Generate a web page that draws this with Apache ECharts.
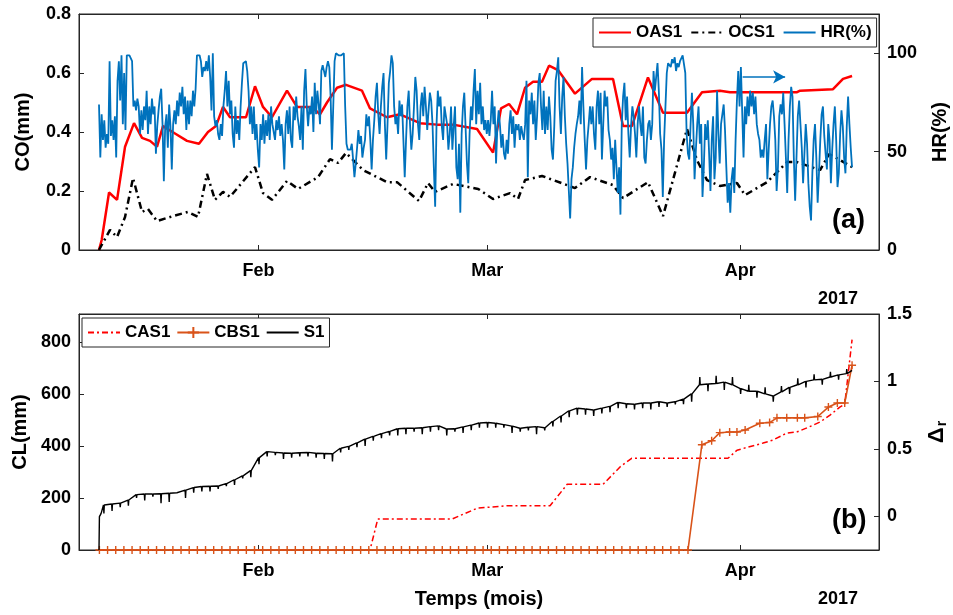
<!DOCTYPE html>
<html><head><meta charset="utf-8">
<script src="https://cdn.jsdelivr.net/npm/echarts@6/dist/echarts.min.js"></script>
<style>html,body{margin:0;padding:0;background:#fff}#c{width:953px;height:615px}</style>
</head><body><div id="c"></div>
<script>
// time unit: days since 2017-01-01 00:00
const MONTH_TICKS = [31, 59, 90];
const MONTH_LABELS = ['Feb', 'Mar', 'Apr'];
const CO_TICKS = [0, 0.2, 0.4, 0.6, 0.8];
const HR_TICKS = [0, 50, 100];
const CL_TICKS = [0, 200, 400, 600, 800];
const DR_TICKS = [0, 0.5, 1, 1.5];

const OAS1 = [[11.45,0],[11.78,0.034],[12.68,0.195],[13.66,0.17],[14.64,0.35],[15.74,0.43],[16.72,0.38],[17.7,0.37],[18.56,0.35],[19.29,0.42],[20.76,0.395],[22.23,0.37],[23.7,0.36],[24.8,0.40],[25.78,0.42],[26.64,0.485],[27.5,0.45],[29.46,0.45],[30.56,0.555],[31.54,0.485],[32.64,0.45],[34.48,0.54],[35.7,0.485],[37.54,0.485],[38.52,0.46],[39.38,0.50],[40.61,0.55],[41.71,0.56],[43.67,0.54],[44.65,0.48],[46.73,0.45],[48.32,0.46],[50.77,0.43],[52.86,0.425],[54.82,0.425],[57.76,0.41],[59.72,0.33],[60.7,0.48],[61.68,0.495],[62.66,0.46],[63.64,0.55],[64.62,0.57],[65.72,0.57],[66.58,0.625],[67.68,0.61],[69.76,0.53],[71.84,0.58],[74.42,0.58],[75.64,0.42],[76.74,0.42],[78.7,0.585],[80.54,0.465],[83.48,0.465],[85.32,0.535],[87.52,0.54],[88.75,0.535],[96.96,0.535],[97.33,0.54],[101.37,0.545],[102.59,0.58],[103.7,0.59]];

const OCS1 = [[11.45,0],[11.78,0.017],[12.8,0.068],[13.66,0.044],[14.64,0.112],[15.62,0.244],[16.72,0.129],[17.45,0.139],[18.56,0.098],[20.52,0.115],[22.35,0.129],[23.58,0.112],[24.68,0.258],[25.66,0.17],[26.64,0.197],[27.5,0.18],[30.56,0.281],[31.54,0.193],[32.64,0.17],[34.48,0.234],[35.83,0.207],[38.28,0.247],[39.75,0.308],[40.73,0.295],[41.71,0.329],[43.79,0.271],[46.73,0.23],[47.96,0.23],[50.65,0.166],[51.75,0.227],[52.61,0.197],[54.82,0.224],[57.9,0.207],[59.72,0.173],[61.8,0.193],[62.78,0.173],[63.64,0.237],[65.72,0.251],[69.76,0.21],[71.6,0.247],[74.42,0.22],[75.64,0.176],[78.7,0.23],[80.54,0.115],[83.48,0.41],[84.7,0.305],[85.93,0.237],[87.52,0.217],[89.6,0.227],[90.59,0.186],[93.28,0.23],[95.73,0.298],[96.96,0.298],[99.78,0.271],[100.88,0.325],[102.23,0.305],[103.7,0.281]];

// HR(%) regular samples from HR_START to HR_END (days)
const HR_START = 11.45;
const HR_END = 103.7;
const HR = [
74,47,69,56,66,52,59,54,96,58, 66,56,68,47,86,96,76,99,64,90, 61,99,99,99,99,96,73,76,71,77, 73,59,71,61,73,66,81,59,73,64, 77,69,73,49,63,71,78,82,64,35, 63,69,52,74,63,41,64,71,64,76, 68,80,73,83,69,78,61,76,64,76, 68,81,73,82,99,100,99,96,88,93, 91,96,91,99,88,71,100,68,63,66,
59,56,64,58,73,81,91,73,86,69, 76,59,52,73,59,66,56,73,85,95, 96,96,91,81,64,73,59,73,56,64, 51,42,64,56,69,54,66,58,69,56, 73,64,63,56,66,61,68,58,64,56, 41,64,71,59,73,56,52,73,66,78, 68,63,56,73,51,81,92,73,63,73, 69,78,60,85,69,81,74,64,91,94, 95,88,93,96,93,78,51,73,96,100, 99,99,100,99,
99,100,73,54,51,52,51,54,46,37, 44,52,61,54,58,47,52,56,69,63, 68,56,41,56,66,78,85,69,59,73, 83,90,64,46,64,85,91,99,95,73, 64,68,59,76,68,74,56,37,56,73, 81,64,51,59,73,88,81,64,56,73, 80,68,83,73,61,71,80,76,64,42, 22,63,81,73,78,63,56,73,74,64, 51,59,73,51,63,73,42,36,54,19, 59,73,80,
80,44,34,59,73,66,81,92,64,81, 69,85,64,73,61,66,59,66,58,66, 81,64,73,44,63,71,63,52,59,49, 46,56,49,64,71,59,68,52,64,61, 64,56,63,59,56,64,86,37,76,69, 80,64,76,56,68,85,90,73,61,81, 59,73,61,78,68,51,46,63,86,91, 98,73,59,78,88,68,54,44,30,16, 36,42,52,59,64,68,76,64,93,73, 56,41,56,64,73,64,73,
59,51,73,81,64,80,46,64,81,73, 78,61,56,46,52,36,56,42,29,42, 18,64,78,85,66,78,59,47,63,73, 68,59,47,64,73,64,58,73,47,44, 56,64,66,56,64,91,81,88,95,81, 59,51,27,56,73,90,95,96,93,97, 95,98,91,95,93,96,95,99,99,90, 59,49,46,64,80,64,36,51,64,73, 54,64,27,42,64,56,66,49,30,56, 68,36,47,81,59,44,64,
64,74,61,42,24,34,19,36,42,29, 56,76,91,73,93,94,47,73,64,78, 68,81,73,80,69,78,64,59,56,47, 51,47,56,64,36,51,64,73,76,68, 56,30,42,68,74,69,80,64,47,29, 56,73,83,78,47,25,47,68,76,64, 52,34,49,64,54,34,22,15,39,56, 64,47,24,39,56,69,73,58,49,41, 64,56,34,51,64,73,56,32,39,59, 71,63,47,39,63,78,64,52,42
];

// S1: first points, then daily level (days 12..103) and the daily spike value
const S1_HEAD = [[11.45,0],[11.5,128],[11.7,140]];
const S1_FIRST_DAY = 12;
const S1_BASE = [
173,177,180,192,213,215,215,216,218,220,
230,240,244,245,246,255,270,285,305,355,
378,375,373,372,374,375,372,371,370,391,
398,412,426,437,447,456,466,468,468,470,
474,477,465,466,473,480,488,490,487,482,
476,468,472,474,470,495,515,535,545,542,
538,545,552,567,562,560,565,565,570,565,
570,580,600,635,638,640,645,635,620,610,
610,600,592,608,625,635,648,654,656,665,
673,678];
const S1_SPIKE = [
140,150,165,170,200,190,205,180,185,215,
200,220,225,225,235,245,250,275,280,330,
360,365,350,355,360,360,355,350,340,375,
385,395,400,420,430,440,440,445,455,445,
455,460,440,455,450,460,470,470,470,470,
450,455,460,445,460,475,490,510,520,520,
515,525,530,545,545,540,545,540,550,550,
560,560,570,665,610,670,615,665,600,635,
585,625,570,630,600,660,625,675,635,685,
655,695];
const S1_TAIL = [[103.7,690]];

const CAS1 = [[11.45,-0.25],[44.65,-0.25],[45.6,-0.02],[54.7,-0.02],[57.8,0.06],[61.4,0.078],[66.7,0.078],[68.8,0.237],[73.2,0.237],[75.3,0.367],[76.7,0.43],[88.5,0.43],[89.6,0.49],[90.8,0.51],[92.8,0.543],[94.0,0.565],[95.7,0.617],[97.0,0.627],[98.5,0.664],[99.8,0.70],[101.0,0.75],[102.2,0.81],[102.8,0.83],[103.7,1.31]];

const CBS1 = [[11.5,-0.25],[12.5,-0.25],[13.5,-0.25],[14.5,-0.25],[15.5,-0.25],[16.5,-0.25],[17.5,-0.25],[18.5,-0.25],[19.5,-0.25],[20.5,-0.25],
[21.5,-0.25],[22.5,-0.25],[23.5,-0.25],[24.5,-0.25],[25.5,-0.25],[26.5,-0.25],[27.5,-0.25],[28.5,-0.25],[29.5,-0.25],[30.5,-0.25],
[31.5,-0.25],[32.5,-0.25],[33.5,-0.25],[34.5,-0.25],[35.5,-0.25],[36.5,-0.25],[37.5,-0.25],[38.5,-0.25],[39.5,-0.25],[40.5,-0.25],
[41.5,-0.25],[42.5,-0.25],[43.5,-0.25],[44.5,-0.25],[45.5,-0.25],[46.5,-0.25],[47.5,-0.25],[48.5,-0.25],[49.5,-0.25],[50.5,-0.25],
[51.5,-0.25],[52.5,-0.25],[53.5,-0.25],[54.5,-0.25],[55.5,-0.25],[56.5,-0.25],[57.5,-0.25],[58.5,-0.25],[59.5,-0.25],[60.5,-0.25],
[61.5,-0.25],[62.5,-0.25],[63.5,-0.25],[64.5,-0.25],[65.5,-0.25],[66.5,-0.25],[67.5,-0.25],[68.5,-0.25],[69.5,-0.25],[70.5,-0.25],
[71.5,-0.25],[72.5,-0.25],[73.5,-0.25],[74.5,-0.25],[75.5,-0.25],[76.5,-0.25],[77.5,-0.25],[78.5,-0.25],[79.5,-0.25],[80.5,-0.25],
[81.5,-0.25],[82.5,-0.25],[83.6,-0.25],
[85.3,0.53],[86.5,0.56],[87.5,0.62],[88.7,0.625],[89.6,0.625],[90.6,0.64],[92.4,0.69],[93.6,0.695],[94.5,0.73],[95.7,0.73],[97.0,0.73],[97.9,0.73],[99.5,0.74],[100.8,0.81],[101.9,0.84],[102.8,0.84],[103.7,1.12]];

// ---------- build ----------
const hrData = HR.map((v, i) => [HR_START + i * (HR_END - HR_START) / (HR.length - 1), v]);
const s1Data = S1_HEAD.slice();
S1_BASE.forEach((b, i) => {
  const d = S1_FIRST_DAY + i;
  s1Data.push([d, b], [d + 0.05, S1_SPIKE[i]], [d + 0.1, b]);
});
S1_TAIL.forEach(p => s1Data.push(p));

const FONT = "'Liberation Sans', Arial, Helvetica, sans-serif";
const AX = '#262626';
const monthFmt = v => { const i = MONTH_TICKS.indexOf(v); return i >= 0 ? MONTH_LABELS[i] : ''; };

function xAx(gridIndex, position, labels, name) {
  return {
    type: 'value', gridIndex, position, min: 9, max: 107,
    axisLine: { show: true, onZero: false, lineStyle: { color: AX, width: 1 } },
    axisTick: { show: true, inside: true, length: 5, customValues: MONTH_TICKS, lineStyle: { color: AX } },
    axisLabel: { show: labels, customValues: MONTH_TICKS, formatter: monthFmt, margin: 12,
      color: '#000', fontFamily: FONT, fontWeight: 'bold', fontSize: 18 },
    splitLine: { show: false },
    name: name || '', nameLocation: 'middle', nameGap: 39,
    nameTextStyle: { color: '#000', fontFamily: FONT, fontWeight: 'bold', fontSize: 20 }
  };
}
function yAx(gridIndex, position, min, max, ticks, name, nameGap, extra) {
  return Object.assign({
    type: 'value', gridIndex, position, min, max,
    axisLine: { show: true, onZero: false, lineStyle: { color: AX, width: 1 } },
    axisTick: { show: true, inside: true, length: 5, customValues: ticks, lineStyle: { color: AX } },
    axisLabel: { show: true, customValues: ticks, margin: 8,
      color: '#000', fontFamily: FONT, fontWeight: 'bold', fontSize: 18 },
    splitLine: { show: false },
    name, nameLocation: 'middle', nameGap,
    nameTextStyle: { color: '#000', fontFamily: FONT, fontWeight: 'bold', fontSize: 20 }
  }, extra || {});
}

const legendText = { color: '#000', fontFamily: FONT, fontWeight: 'bold', fontSize: 17 };
const noMark = { opacity: 0 };

const option = {
  animation: false,
  backgroundColor: '#fff',
  grid: [
    { left: 79, top: 14, width: 800, height: 236, show: true, borderColor: AX, borderWidth: 1, backgroundColor: 'transparent', outerBoundsMode: 'none', containLabel: false },
    { left: 79, top: 314, width: 800, height: 236, show: true, borderColor: AX, borderWidth: 1, backgroundColor: 'transparent', outerBoundsMode: 'none', containLabel: false }
  ],
  xAxis: [
    xAx(0, 'bottom', true),
    xAx(0, 'top', false),
    xAx(1, 'bottom', true, 'Temps (mois)'),
    xAx(1, 'top', false)
  ],
  yAxis: [
    yAx(0, 'left', 0, 0.8, CO_TICKS, 'CO(mm)', 46),
    yAx(0, 'right', 0, 120, HR_TICKS, 'HR(%)', 51),
    yAx(1, 'left', 0, 907, CL_TICKS, 'CL(mm)', 46),
    yAx(1, 'right', -0.25, 1.5, DR_TICKS, '{a|Δ}{b|r}', 46, {
      nameTextStyle: { color: '#000', fontFamily: FONT, fontWeight: 'bold', fontSize: 22,
        rich: { a: { fontFamily: FONT, fontWeight: 'bold', fontSize: 22, color: '#000' },
                b: { fontFamily: FONT, fontWeight: 'bold', fontSize: 14, color: '#000', padding: [10, 0, 0, 1] } } }
    })
  ],
  legend: [
    { data: [{ name: 'OAS1', itemStyle: noMark }, { name: 'OCS1', itemStyle: noMark }, { name: 'HR(%)', itemStyle: noMark }],
      left: 593, top: 18, orient: 'horizontal',
      padding: [6, 5, 6, 5], itemGap: 8, itemWidth: 32, itemHeight: 14,
      borderColor: AX, borderWidth: 1, backgroundColor: '#fff', textStyle: legendText, selectedMode: false },
    { data: [{ name: 'CAS1', itemStyle: noMark }, { name: 'CBS1' }, { name: 'S1', itemStyle: noMark }],
      left: 82, top: 318, orient: 'horizontal',
      padding: [6, 5, 6, 5], itemGap: 6, itemWidth: 32, itemHeight: 14,
      borderColor: AX, borderWidth: 1, backgroundColor: '#fff', textStyle: legendText, selectedMode: false }
  ],
  series: [
    { name: 'OAS1', type: 'line', xAxisIndex: 0, yAxisIndex: 0, data: OAS1, symbol: 'none', z: 2,
      lineStyle: { color: '#ff0000', width: 2.5 }, itemStyle: { color: '#ff0000' } },
    { name: 'OCS1', type: 'line', xAxisIndex: 0, yAxisIndex: 0, data: OCS1, symbol: 'none', z: 2,
      lineStyle: { color: '#000000', width: 2.5, type: [7, 4, 2, 4] }, itemStyle: { color: '#000000' } },
    { name: 'HR(%)', type: 'line', xAxisIndex: 0, yAxisIndex: 1, data: hrData, symbol: 'none', z: 3,
      lineStyle: { color: '#0072bd', width: 1.8 }, itemStyle: { color: '#0072bd' },
      markLine: { silent: true, symbol: ['none', 'arrow'], symbolSize: [10, 12],
        lineStyle: { color: '#0072bd', width: 1.5, type: 'solid' }, label: { show: false },
        data: [[{ coord: [90.3, 88] }, { coord: [95.5, 88] }]] } },
    { name: 'CAS1', type: 'line', xAxisIndex: 2, yAxisIndex: 3, data: CAS1, symbol: 'none', clip: false, z: 2,
      lineStyle: { color: '#ff0000', width: 1.5, type: [6, 3, 2, 3] }, itemStyle: { color: '#ff0000' } },
    { name: 'CBS1', type: 'line', xAxisIndex: 2, yAxisIndex: 3, data: CBS1, clip: false, z: 3,
      symbol: 'path://M5,0L5,10M0,5L10,5', symbolSize: 8, showSymbol: true, showAllSymbol: true,
      lineStyle: { color: '#d95319', width: 1.6 },
      itemStyle: { color: '#d95319', borderColor: '#d95319', borderWidth: 1.4 } },
    { name: 'S1', type: 'line', xAxisIndex: 2, yAxisIndex: 2, data: s1Data, symbol: 'none', z: 4,
      lineStyle: { color: '#000000', width: 1.4 }, itemStyle: { color: '#000000' } }
  ],
  graphic: [
    { type: 'text', left: 818, top: 290, style: { text: '2017', fill: '#000', font: "bold 18px 'Liberation Sans', Arial, sans-serif" } },
    { type: 'text', left: 818, top: 590, style: { text: '2017', fill: '#000', font: "bold 18px 'Liberation Sans', Arial, sans-serif" } },
    { type: 'text', left: 832, top: 207, style: { text: '(a)', fill: '#000', font: "bold 27px 'Liberation Sans', Arial, sans-serif" } },
    { type: 'text', left: 832, top: 507, style: { text: '(b)', fill: '#000', font: "bold 27px 'Liberation Sans', Arial, sans-serif" } }
  ]
};

const chart = echarts.init(document.getElementById('c'), null, { renderer: 'canvas' });
chart.setOption(option);
</script>
</body></html>
